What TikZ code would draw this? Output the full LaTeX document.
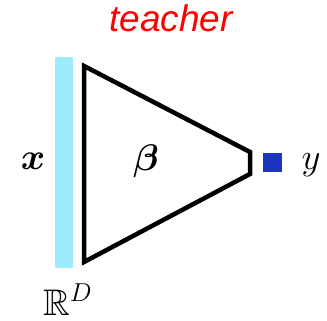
\RequirePackage{fix-cm}
\documentclass[tikz,border=0pt]{standalone}
\usepackage{amsmath,amssymb}
\usepackage{fontspec}
\newfontfamily\helv{Liberation Sans}
\definecolor{barcyan}{RGB}{158,235,255}
\definecolor{sqblue}{RGB}{28,52,192}
\definecolor{tred}{RGB}{255,0,0}
\begin{document}
\begin{tikzpicture}[x=1pt,y=-1pt,
  lbl/.style={inner sep=0pt,font=\fontsize{37}{40}\selectfont},
  net/.style={draw=black,line width=4.5pt,line join=miter}]
\useasboundingbox (0,0) rectangle (327,321);
\fill[barcyan] (55,57) rectangle (73,268);
\coordinate (tl) at (84,66);
\coordinate (r1) at (250,152);
\coordinate (r2) at (250,174);
\coordinate (bl) at (84,262);
\draw[net] (tl) -- (r1) -- (r2) -- (bl) -- cycle;
\node[fill=sqblue,minimum size=19pt,inner sep=0pt] (sq) at (272.5,162.5) {};
\node[lbl,anchor=base] (y) at (311,169) {$y$};
\node[lbl,anchor=base] (x) at (33,169) {$\boldsymbol{x}$};
\node[lbl,anchor=base] (b) at (146,170) {$\boldsymbol{\beta}$};
\node[lbl,anchor=base west] (R) at (43,315) {$\mathbb{R}^D$};
\node[lbl,anchor=base,text=tred] (t) at (171,32) {\helv\itshape teacher};
\end{tikzpicture}
\end{document}
